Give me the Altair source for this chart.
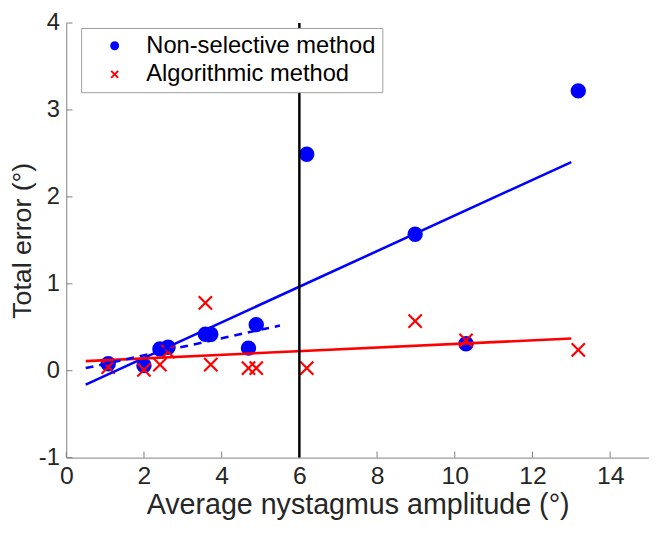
import altair as alt
import pandas as pd

# ---- data ----
amplitude = [1.08, 2.0, 2.41, 2.62, 3.58, 3.72, 4.69, 4.89, 6.19, 8.98, 10.29, 13.18]
nonselective_err = [0.08, 0.06, 0.25, 0.27, 0.42, 0.42, 0.26, 0.53, 2.49, 1.57, 0.31, 3.22]
algorithmic_err = [0.04, 0.01, 0.07, 0.22, 0.78, 0.07, 0.03, 0.03, 0.03, 0.57, 0.35, 0.24]
methods = ["Non-selective method", "Algorithmic method"]

fit_x = [0.5, 13.0]
nonselective_fit_y = [-0.16, 2.40]
algorithmic_fit_y = [0.11, 0.37]
dashed_fit_x = [0.5, 5.5]
dashed_fit_y = [0.03, 0.52]

threshold = [6]
x_ticks = [0, 2, 4, 6, 8, 10, 12, 14]
y_ticks = [-1, 0, 1, 2, 3, 4]

FONT = "Liberation Sans"
AXIS_GRAY = "#808080"
TEXT = "#262626"

pts = pd.DataFrame({
    "amp": amplitude + amplitude,
    "err": nonselective_err + algorithmic_err,
    "method": [methods[0]] * len(amplitude) + [methods[1]] * len(amplitude),
})
pts["order"] = range(len(pts))

xs = alt.Scale(domain=[0, 15], nice=False, zero=False)
ys = alt.Scale(domain=[-1, 4], nice=False, zero=False)

x_axis = alt.Axis(values=x_ticks, ticks=False, grid=False, domainColor=AXIS_GRAY,
                  labelFontSize=25, labelColor=TEXT, labelPadding=6, labelFlush=False,
                  labelOverlap=False, titleFontSize=29, titleFontWeight="normal",
                  titleColor=TEXT, titlePadding=3, title="Average nystagmus amplitude (°)")
y_axis = alt.Axis(values=y_ticks, ticks=False, grid=False, domainColor=AXIS_GRAY,
                  labelFontSize=24, labelColor=TEXT, labelPadding=7, labelFlush=False,
                  labelOverlap=False, labelExpr="'' + datum.value",
                  titleFontSize=27, titleFontWeight="normal", titleColor=TEXT,
                  titlePadding=2, title="Total error (°)")

XSHAPE = "M-1,-1L1,1M1,-1L-1,1"

points = alt.Chart(pts).mark_point(size=180, strokeWidth=2.2, opacity=1).encode(
    x=alt.X("amp:Q", scale=xs, axis=x_axis),
    y=alt.Y("err:Q", scale=ys, axis=y_axis),
    stroke=alt.Stroke("method:N", sort=methods,
                      scale=alt.Scale(domain=methods, range=["#0000ff", "#ff0000"]),
                      legend=alt.Legend(title=None)),
    fill=alt.Fill("method:N", sort=methods,
                  scale=alt.Scale(domain=methods, range=["#0000ff", "transparent"]),
                  legend=alt.Legend(title=None)),
    shape=alt.Shape("method:N", sort=methods,
                    scale=alt.Scale(domain=methods, range=["circle", XSHAPE]),
                    legend=alt.Legend(title=None)),
    order="order:Q",
)

fit_df_b = pd.DataFrame({"x": fit_x, "y": nonselective_fit_y})
fit_df_r = pd.DataFrame({"x": fit_x, "y": algorithmic_fit_y})
dash_df = pd.DataFrame({"x": dashed_fit_x, "y": dashed_fit_y})

def line(df, color, **kw):
    return alt.Chart(df).mark_line(color=color, strokeWidth=2.6, **kw).encode(
        x=alt.X("x:Q", scale=xs, axis=x_axis),
        y=alt.Y("y:Q", scale=ys, axis=y_axis),
    )

blue_fit = line(fit_df_b, "#0000ff")
red_fit = line(fit_df_r, "#ff0000")
blue_dash = line(dash_df, "#0000ff", strokeDash=[8, 6])

vline = alt.Chart(pd.DataFrame({"x": threshold})).mark_rule(
    color="black", strokeWidth=2.5).encode(x=alt.X("x:Q", scale=xs, axis=x_axis))

xt = alt.Chart(pd.DataFrame({"t": x_ticks})).mark_rule(color=AXIS_GRAY, strokeWidth=1).encode(
    x=alt.X("t:Q", scale=xs, axis=x_axis),
    y=alt.datum(-1, scale=ys, axis=y_axis),
    y2=alt.datum(-0.93),
)
yt = alt.Chart(pd.DataFrame({"t": y_ticks})).mark_rule(color=AXIS_GRAY, strokeWidth=1).encode(
    y=alt.Y("t:Q", scale=ys, axis=y_axis),
    x=alt.datum(0, scale=xs, axis=x_axis),
    x2=alt.datum(0.16),
)

chart = alt.layer(points, xt, yt, blue_fit, red_fit, blue_dash, vline).properties(
    width=590, height=440,
    autosize=alt.AutoSizeParams(type="none"),
    padding={"left": 59, "top": 12, "right": 0, "bottom": 66},
).configure(font=FONT).configure_view(strokeWidth=0).configure_legend(
    orient="none", legendX=15, legendY=5, padding=6, symbolOffset=16,
    labelOffset=20, rowPadding=5, labelFontSize=24, labelFont=FONT, labelColor="black",
    strokeColor="#a0a0a0", fillColor="white", symbolSize=50, symbolStrokeWidth=2,
    labelLimit=400,
)

chart.save("out.html", embed_options={"renderer": "svg", "actions": False})
